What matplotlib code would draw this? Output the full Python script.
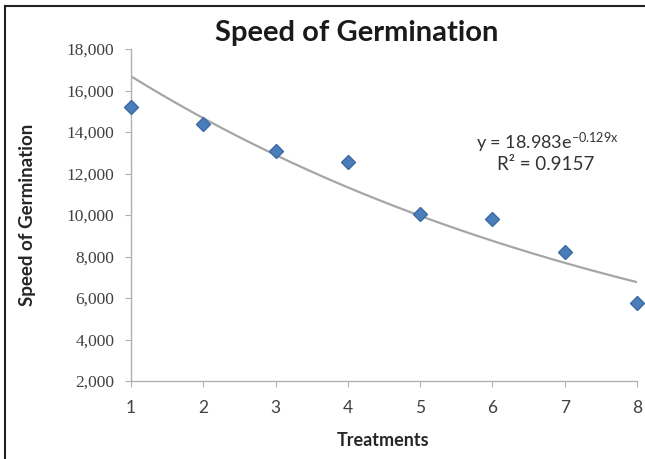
import matplotlib
matplotlib.use("Agg")
import matplotlib.pyplot as plt
import numpy as np
from matplotlib.lines import Line2D

treatments = [1, 2, 3, 4, 5, 6, 7, 8]
speed = [15.20, 14.39, 13.08, 12.55, 10.05, 9.80, 8.22, 5.76]
fit_a = 18.983
fit_b = -0.129
r2_text = "R² = 0.9157"
y_ticks = [2, 4, 6, 8, 10, 12, 14, 16, 18]

plt.rcParams['mathtext.fontset'] = 'custom'
plt.rcParams['mathtext.rm'] = 'Lato'
plt.rcParams['mathtext.it'] = 'Lato'

fig = plt.figure(figsize=(6.45, 4.59), dpi=100)
ax = fig.add_axes([131/645, 1-381/459, (637-131)/645, (381-49)/459])

xs = np.linspace(1, 8, 200)
ax.plot(xs, fit_a*np.exp(fit_b*xs), color='#a6a6a6', lw=1.6, zorder=2)
ax.plot(treatments, speed, linestyle='none', marker='D', ms=7,
        color='#4a7ebb', markeredgecolor='#3d6aa5', zorder=3, clip_on=False)

ax.set_xlim(1, 8)
ax.set_ylim(2, 18)
ax.set_xticks(treatments)
ax.set_yticks(y_ticks)
ax.set_yticklabels([f"{v:.3f}".replace('.', ',') for v in y_ticks],
                   family='Liberation Serif', fontsize=12.5, color='#404040')
ax.set_xticklabels([str(t) for t in treatments], family='Lato', fontsize=12.5, color='#404040')
for s in ['top', 'right']:
    ax.spines[s].set_visible(False)
for s in ['left', 'bottom']:
    ax.spines[s].set_color('#b0b0b0')
    ax.spines[s].set_linewidth(1.0)
ax.tick_params(axis='both', direction='out', length=4, color='#b0b0b0')
ax.tick_params(axis='y', pad=8)
ax.tick_params(axis='x', pad=10)

ax.set_xlabel('Treatments', family='Lato', fontweight='bold', fontsize=13, color='#262626')
ax.xaxis.set_label_coords((383-131)/(637-131), -(440-381)/(381-49))
ax.set_ylabel('Speed of Germination', family='Lato', fontweight='bold', fontsize=13.5, color='#262626')
ax.yaxis.set_label_coords(-(131-28)/(637-131), 0.5)
ax.yaxis.label.set_va('center')
ax.xaxis.label.set_va('center')
fig.text(357/645, 1-33/459, 'Speed of Germination', family='Lato', fontweight='bold',
         fontsize=21, ha='center', va='center', color='#1a1a1a')

fig.text(547/645, 1-143/459, r'y = 18.983e$^{-0.129x}$', family='Lato', fontsize=13,
         ha='center', va='center', color='#333333')
fig.text(546/645, 1-165/459, r2_text, family='Lato', fontsize=13.5,
         ha='center', va='center', color='#333333')

fig.add_artist(Line2D([5/645, 1], [1-6/459, 1-6/459], color='#222222', lw=1.5, transform=fig.transFigure))
fig.add_artist(Line2D([5/645, 5/645], [0, 1-6/459], color='#222222', lw=1.5, transform=fig.transFigure))

fig.savefig('out.png', dpi=100)
